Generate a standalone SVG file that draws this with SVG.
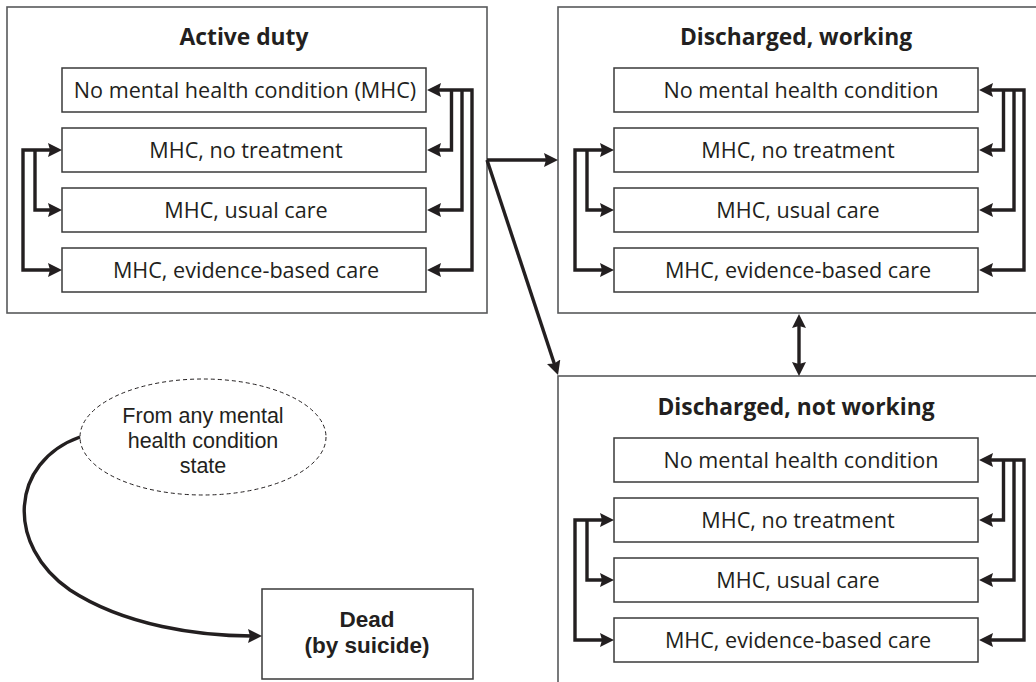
<svg xmlns="http://www.w3.org/2000/svg" width="1036" height="682" viewBox="0 0 1036 682">
<style>
.outer{fill:#fff;stroke:#58595b;stroke-width:1.6}
.inner{fill:#fff;stroke:#3a3a3a;stroke-width:1.5}
.t{font-family:"Open Sans","Noto Sans","Liberation Sans",sans-serif;font-size:21.6px;fill:#231f20;text-anchor:middle}
.b{font-family:"Open Sans","Noto Sans","Liberation Sans",sans-serif;font-size:22.8px;font-weight:bold;fill:#231f20;text-anchor:middle}
.tm{font-family:"Liberation Sans",Arial,sans-serif;font-size:21.5px;fill:#231f20;text-anchor:middle}
.bm{font-family:"Liberation Sans",Arial,sans-serif;font-size:22.5px;font-weight:bold;fill:#231f20;text-anchor:middle}
.c{fill:none;stroke:#231f20;stroke-width:3.4;stroke-linejoin:miter}
.cm{marker-end:url(#ah)}
.cb{marker-start:url(#ah);marker-end:url(#ah)}
</style>
<defs>
<marker id="ah" viewBox="0 0 14 14" refX="4" refY="7" markerWidth="14" markerHeight="14" markerUnits="userSpaceOnUse" orient="auto-start-reverse">
<path d="M0,0 L14,7 L0,14 L2,7 z" fill="#231f20"/>
</marker>
</defs>
<rect width="1036" height="682" fill="#fff"/>

<g id="active-duty">
<rect class="outer" x="7" y="7" width="480" height="306"/>
<text class="b" x="244" y="45">Active duty</text>
<g id="ad-no-mhc"><rect class="inner" x="62" y="68" width="364" height="44"/><text class="t" x="245" y="97.5">No mental health condition (MHC)</text></g>
<g id="ad-no-treatment"><rect class="inner" x="62" y="128" width="364" height="44"/><text class="t" x="246" y="157.5">MHC, no treatment</text></g>
<g id="ad-usual-care"><rect class="inner" x="62" y="188" width="364" height="44"/><text class="t" x="246" y="217.5">MHC, usual care</text></g>
<g id="ad-evidence-care"><rect class="inner" x="62" y="248" width="364" height="44"/><text class="t" x="246" y="277.5">MHC, evidence-based care</text></g>
</g>

<g id="discharged-working">
<rect class="outer" x="558" y="7" width="490" height="306"/>
<text class="b" x="796" y="45">Discharged, working</text>
<g id="dw-no-mhc"><rect class="inner" x="614" y="68" width="364" height="44"/><text class="t" x="801" y="97.5">No mental health condition</text></g>
<g id="dw-no-treatment"><rect class="inner" x="614" y="128" width="364" height="44"/><text class="t" x="798" y="157.5">MHC, no treatment</text></g>
<g id="dw-usual-care"><rect class="inner" x="614" y="188" width="364" height="44"/><text class="t" x="798" y="217.5">MHC, usual care</text></g>
<g id="dw-evidence-care"><rect class="inner" x="614" y="248" width="364" height="44"/><text class="t" x="798" y="277.5">MHC, evidence-based care</text></g>
</g>

<g id="discharged-not-working">
<rect class="outer" x="558" y="376" width="490" height="320"/>
<text class="b" x="796" y="415">Discharged, not working</text>
<g id="dn-no-mhc"><rect class="inner" x="614" y="438" width="364" height="44"/><text class="t" x="801" y="467.5">No mental health condition</text></g>
<g id="dn-no-treatment"><rect class="inner" x="614" y="498" width="364" height="44"/><text class="t" x="798" y="527.5">MHC, no treatment</text></g>
<g id="dn-usual-care"><rect class="inner" x="614" y="558" width="364" height="44"/><text class="t" x="798" y="587.5">MHC, usual care</text></g>
<g id="dn-evidence-care"><rect class="inner" x="614" y="618" width="364" height="44"/><text class="t" x="798" y="647.5">MHC, evidence-based care</text></g>
</g>

<g id="from-any-mhc">
<ellipse cx="203" cy="437" rx="123" ry="58" fill="#fff" stroke="#231f20" stroke-width="1" stroke-dasharray="4,3"/>
<text class="tm" x="203" y="423">From any mental</text>
<text class="tm" x="203" y="448">health condition</text>
<text class="tm" x="203" y="473">state</text>
</g>

<g id="dead">
<rect class="inner" x="262" y="589" width="211" height="90"/>
<text class="bm" x="367" y="627">Dead</text>
<text class="bm" x="367" y="653">(by suicide)</text>
</g>

<g id="connectors">
<path class="c cb" d="M437,90 H472 V270 H437"/>
<path class="c cm" d="M451.5,89 V150 H437"/>
<path class="c cm" d="M462,89 V210 H437"/>
<path class="c cb" d="M52,150 H23 V270 H52"/>
<path class="c cm" d="M35,151 V210 H52"/>
<path class="c cb" d="M989,90 H1024 V270 H989"/>
<path class="c cm" d="M1003.5,89 V150 H989"/>
<path class="c cm" d="M1014,89 V210 H989"/>
<path class="c cb" d="M604,150 H575 V270 H604"/>
<path class="c cm" d="M587,151 V210 H604"/>
<path class="c cb" d="M989,460 H1024 V640 H989"/>
<path class="c cm" d="M1003.5,459 V520 H989"/>
<path class="c cm" d="M1014,459 V580 H989"/>
<path class="c cb" d="M604,520 H575 V640 H604"/>
<path class="c cm" d="M587,521 V580 H604"/>
<path class="c cm" d="M487,160 H548"/>
<path class="c cm" d="M487,160 L554.9,365.5"/>
<path class="c cb" d="M799,324 V366"/>
<path class="c cm" d="M80,437 C10,462 5,545 70,590 C125,626 200,636 252,636"/>
</g>
</svg>
